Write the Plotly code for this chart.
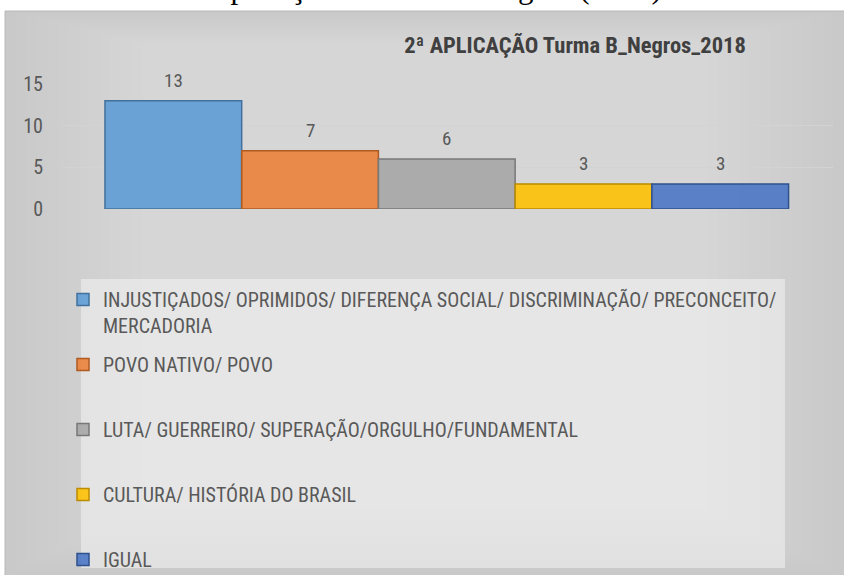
import plotly.graph_objects as go

# ---- data ----
categories = [
    "INJUSTIÇADOS/ OPRIMIDOS/ DIFERENÇA SOCIAL/ DISCRIMINAÇÃO/ PRECONCEITO/<br>MERCADORIA",
    "POVO NATIVO/ POVO",
    "LUTA/ GUERREIRO/ SUPERAÇÃO/ORGULHO/FUNDAMENTAL",
    "CULTURA/ HISTÓRIA DO BRASIL",
    "IGUAL",
]
values = [13, 7, 6, 3, 3]
y_ticks = [0, 5, 10, 15]
title_text = "2ª APLICAÇÃO Turma B_Negros_2018"
caption_text = "2ª Aplicação Turma B – Negros (2018)"

fills = ["rgba(91,155,213,0.88)", "rgba(237,125,49,0.85)", "rgba(165,165,165,0.88)",
         "rgba(255,192,0,0.88)", "rgba(68,114,196,0.85)"]
borders = ["#41719c", "#ae5a21", "#787878", "#bc8c00", "#2f528f"]

W, H = 844, 575
L, R, T, B = 63, 11, 84, 366
PW, PH = W - L - R, H - T - B


def px(xp):
    return (xp - L) / PW


def py(yp):
    return (H - B - yp) / PH


FONT = "Liberation Sans Narrow, Arial Narrow, Roboto Condensed, Roboto, sans-serif"

fig = go.Figure()
for i, (name, v) in enumerate(zip(categories, values)):
    last = i == len(categories) - 1
    label = name if ("<br>" in name or last) else name + "<br>\u00a0"
    fig.add_trace(go.Bar(
        x=[i], y=[v], width=[1], name=label, legendgroup=f"g{i}",
        marker=dict(color=fills[i], line=dict(color=borders[i], width=1.5)),
        hoverinfo="y",
    ))
    fig.add_annotation(x=i, y=v, xref="x", yref="y", text=str(v), showarrow=False,
                       yanchor="bottom", yshift=7,
                       font=dict(family=FONT, size=19, color="#595959"))

shapes = []
# chart area background with a faked radial gradient
shapes.append(dict(type="rect", xref="paper", yref="paper", layer="below",
                   x0=px(5), x1=px(850), y0=py(11), y1=py(590),
                   fillcolor="#c9c9c9", line=dict(color="#b8b8b8", width=1)))
n = 36
for k in range(1, n + 1):
    dx = 10.5 * k
    dy = 5 * k
    shapes.append(dict(type="rect", xref="paper", yref="paper", layer="below",
                       x0=px(5 + dx), x1=px(844 - dx), y0=py(11 + dy * 0.5), y1=py(575 - dy),
                       fillcolor="rgba(255,255,255,0.025)", line=dict(width=0)))
# legend box
shapes.append(dict(type="rect", xref="paper", yref="paper", layer="below",
                   x0=px(81), x1=px(785), y0=py(279), y1=py(568),
                   fillcolor="rgba(240,240,240,0.6)", line=dict(width=0)))
fig.update_layout(shapes=shapes)

# partially visible document caption at very top
fig.add_annotation(xref="paper", yref="paper", x=px(664), y=py(6.7),
                   xanchor="right", yanchor="bottom", showarrow=False,
                   text=caption_text,
                   font=dict(family="Liberation Serif, Times New Roman, serif", size=31, color="#000000"))

fig.update_layout(
    width=W, height=H,
    margin=dict(l=L, r=R, t=T, b=B, autoexpand=False),
    paper_bgcolor="#ffffff",
    plot_bgcolor="rgba(0,0,0,0)",
    barmode="overlay",
    title=dict(text=title_text, x=575 / W, xanchor="center", y=1 - 45 / H, yanchor="middle",
               font=dict(family=FONT, size=22.5, color="#404040", weight="bold")),
    xaxis=dict(range=[-0.807, 4.825], showticklabels=False, showgrid=False, zeroline=False,
               ticks="", fixedrange=True),
    yaxis=dict(range=[0, 15], tickvals=y_ticks, showgrid=True, gridcolor="#d3d3d3", gridwidth=1,
               zeroline=False, ticks="", ticklabelstandoff=19,
               tickfont=dict(family=FONT, size=20, color="#595959")),
    showlegend=True,
    legend=dict(x=px(63), y=py(280), xanchor="left", yanchor="top",
                bgcolor="rgba(0,0,0,0)", borderwidth=0, valign="top",
                tracegroupgap=10, traceorder="grouped", maxheight=500,
                font=dict(family=FONT, size=20, color="#595959")),
)

fig.write_html("out.html")
